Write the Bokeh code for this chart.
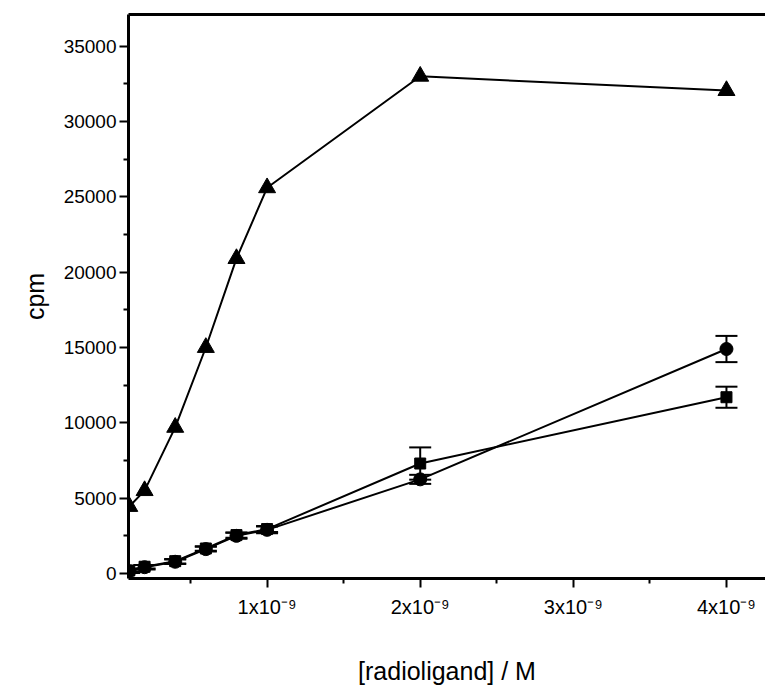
from bokeh.plotting import figure
from bokeh.models import (ColumnDataSource, Whisker, TeeHead, FixedTicker, LinearAxis,
                          Range1d, CustomJSTickFormatter)
from bokeh.embed import file_html
from bokeh.resources import INLINE

# ---- data ----
conc_tri = [1e-10, 2e-10, 4e-10, 6e-10, 8e-10, 1e-9, 2e-9, 4e-9]
cpm_tri = [4450, 5500, 9700, 15000, 20900, 25600, 33000, 32050]

conc_circ = [1e-10, 2e-10, 4e-10, 6e-10, 8e-10, 1e-9, 2e-9, 4e-9]
cpm_circ = [150, 420, 780, 1620, 2500, 2900, 6250, 14900]
err_circ = [120, 150, 150, 150, 200, 220, 300, 870]

conc_sq = [1e-10, 2e-10, 4e-10, 6e-10, 8e-10, 1e-9, 2e-9, 4e-9]
cpm_sq = [200, 450, 820, 1660, 2550, 2950, 7300, 11700]
err_sq = [100, 120, 150, 150, 180, 200, 1070, 700]

y_major = [0, 5000, 10000, 15000, 20000, 25000, 30000, 35000]
y_minor = [2500, 7500, 12500, 17500, 22500, 27500, 32500]
x_major = [1e-9, 2e-9, 3e-9, 4e-9]
x_minor = [5e-10, 1.5e-9, 2.5e-9, 3.5e-9]

FONT = "Liberation Sans"

p = figure(width=765, height=689, output_backend="svg", toolbar_location=None,
           x_range=Range1d(0.095e-9, 4.255e-9), y_range=Range1d(-330, 37100),
           min_border_left=128, min_border_right=0, min_border_top=14,
           min_border_bottom=111)
p.outline_line_color = None
p.grid.visible = False
p.background_fill_color = "white"
p.border_fill_color = "white"

# series
src_c = ColumnDataSource(dict(x=conc_circ, y=cpm_circ,
                              lo=[v - e for v, e in zip(cpm_circ, err_circ)],
                              hi=[v + e for v, e in zip(cpm_circ, err_circ)]))
src_s = ColumnDataSource(dict(x=conc_sq, y=cpm_sq,
                              lo=[v - e for v, e in zip(cpm_sq, err_sq)],
                              hi=[v + e for v, e in zip(cpm_sq, err_sq)]))
src_t = ColumnDataSource(dict(x=conc_tri, y=cpm_tri))

for src in (src_c, src_s):
    w = Whisker(source=src, base="x", lower="lo", upper="hi", line_color="black",
                line_width=2,
                lower_head=TeeHead(size=22, line_color="black", line_width=2),
                upper_head=TeeHead(size=22, line_color="black", line_width=2))
    p.add_layout(w)

p.line("x", "y", source=src_t, line_color="black", line_width=2)
p.line("x", "y", source=src_c, line_color="black", line_width=2)
p.line("x", "y", source=src_s, line_color="black", line_width=2)

p.scatter("x", "y", source=src_t, marker="triangle", size=17, color="black")
p.scatter("x", "y", source=src_c, marker="circle", size=13, color="black")
p.scatter("x", "y", source=src_s, marker="square", size=11, color="black")

# axes
xa = p.xaxis[0]
xa.ticker = FixedTicker(ticks=x_major, minor_ticks=x_minor)
xa.formatter = CustomJSTickFormatter(code="return Math.round(tick*1e9) + 'x10\u207b\u2079';")
xa.axis_label = "[radioligand] / M"

ya = p.yaxis[0]
ya.ticker = FixedTicker(ticks=y_major, minor_ticks=y_minor)
ya.axis_label = "cpm"

for ax in (xa, ya):
    ax.axis_line_width = 3
    ax.axis_line_color = "black"
    ax.major_tick_line_width = 2
    ax.minor_tick_line_width = 2
    ax.major_tick_out = 9
    ax.major_tick_in = 0
    ax.minor_tick_out = 5
    ax.minor_tick_in = 0
    ax.major_label_text_font = FONT
    ax.major_label_text_font_size = "19px"
    ax.major_label_text_color = "black"
    ax.axis_label_text_font = FONT
    ax.axis_label_text_font_size = "25px"
    ax.axis_label_text_font_style = "normal"
    ax.axis_label_text_color = "black"

xa.major_label_text_font_size = "20px"
ya.major_label_standoff = 3
ya.axis_label_standoff = 12
xa.major_label_standoff = 8
xa.axis_label_standoff = 36

top = LinearAxis(ticker=FixedTicker(ticks=[], minor_ticks=[]),
                 axis_line_width=3, axis_line_color="black",
                 major_tick_out=0, major_tick_in=0, minor_tick_out=0, minor_tick_in=0,
                 major_label_standoff=0)
p.add_layout(top, "above")

open("out.html", "w").write(file_html(p, INLINE))
